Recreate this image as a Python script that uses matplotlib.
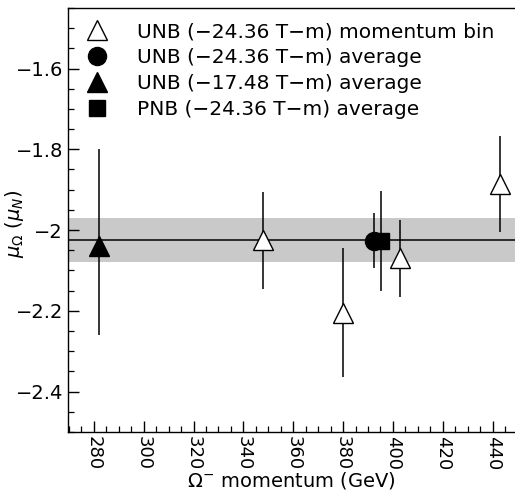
import matplotlib
matplotlib.use("Agg")
import matplotlib.pyplot as plt
from matplotlib.lines import Line2D
from matplotlib.ticker import MultipleLocator, FixedLocator

# UNB (-24.36 T-m) in momentum bins
bin_p = [348, 380, 403, 443]
bin_mu = [-2.025, -2.205, -2.07, -1.886]
bin_err = [0.12, 0.16, 0.095, 0.12]

# averages
unb24_p, unb24_mu, unb24_err = 392.6, -2.027, 0.068
unb17_p, unb17_mu = 282.0, -2.04
unb17_err_lo, unb17_err_hi = 0.22, 0.24
pnb24_p, pnb24_mu, pnb24_err = 395.2, -2.027, 0.123

# world average band
mu_avg = -2.024
band_lo, band_hi = -2.079, -1.970

xticks = [280, 300, 320, 340, 360, 380, 400, 420, 440]
yticks = [-1.6, -1.8, -2.0, -2.2, -2.4]
ytick_labels = ["\u22121.6", "\u22121.8", "\u22122", "\u22122.2", "\u22122.4"]

plt.rcParams["font.family"] = ["DejaVu Sans"]
plt.rcParams["mathtext.fontset"] = "dejavusans"

fig = plt.figure(figsize=(5.15, 4.97), dpi=100)
ax = fig.add_axes([0.132, 0.131, 0.868, 0.853])

ax.set_xlim(269.6, 449)
ax.set_ylim(-2.5, -1.45)

ax.axhspan(band_lo, band_hi, facecolor="#c9c9c9", edgecolor="none", zorder=1)
ax.axhline(mu_avg, color="black", lw=1.1, zorder=2)

ekw = dict(ecolor="black", elinewidth=1.1, capsize=0, linestyle="none", zorder=3)
ax.errorbar(bin_p, bin_mu, yerr=bin_err, marker="^", ms=14, mfc="white",
            mec="black", mew=1.0, **ekw)
ax.errorbar([unb17_p], [unb17_mu], yerr=[[unb17_err_lo], [unb17_err_hi]],
            marker="^", ms=14, mfc="black", mec="black", **ekw)
ax.errorbar([pnb24_p], [pnb24_mu], yerr=[pnb24_err], marker="s", ms=12,
            mfc="black", mec="black", **ekw)
ax.errorbar([unb24_p], [unb24_mu], yerr=[unb24_err], marker="o", ms=13,
            mfc="black", mec="black", **ekw)

ax.xaxis.set_major_locator(FixedLocator(xticks))
ax.xaxis.set_minor_locator(MultipleLocator(5))
ax.yaxis.set_major_locator(FixedLocator(yticks))
ax.yaxis.set_minor_locator(MultipleLocator(0.05))
ax.set_yticklabels(ytick_labels)
ax.set_xticklabels([str(v) for v in xticks], rotation=-90)

ax.tick_params(which="major", direction="in", length=8, width=1.0,
               labelsize=14, top=False, right=False)
ax.tick_params(which="minor", direction="in", length=4, width=0.9,
               top=False, right=False)
ax.tick_params(axis="x", labelsize=13, pad=3)
for s in ax.spines.values():
    s.set_linewidth(1.0)
ax.spines["right"].set_visible(False)

ax.set_xlabel(r"$\Omega^{-}$ momentum (GeV)", fontsize=14, labelpad=0)
ax.set_ylabel(r"$\mu_{\Omega}$ $(\mu_N)$", fontsize=14)
ax.yaxis.set_label_coords(-0.095, 0.49)

handles = [
    Line2D([], [], marker="^", ls="none", ms=14, mfc="white", mec="black"),
    Line2D([], [], marker="o", ls="none", ms=13, mfc="black", mec="black"),
    Line2D([], [], marker="^", ls="none", ms=14, mfc="black", mec="black"),
    Line2D([], [], marker="s", ls="none", ms=12, mfc="black", mec="black"),
]
labels = [
    "UNB (\u221224.36 T\u2212m) momentum bin",
    "UNB (\u221224.36 T\u2212m) average",
    "UNB (\u221217.48 T\u2212m) average",
    "PNB (\u221224.36 T\u2212m) average",
]
ax.legend(handles, labels, loc="upper left", frameon=False, fontsize=14.5,
          handlelength=1.0, handletextpad=1.5, labelspacing=0.35,
          borderaxespad=0.3, bbox_to_anchor=(0.01, 1.0))

fig.savefig("out.png", dpi=100)
